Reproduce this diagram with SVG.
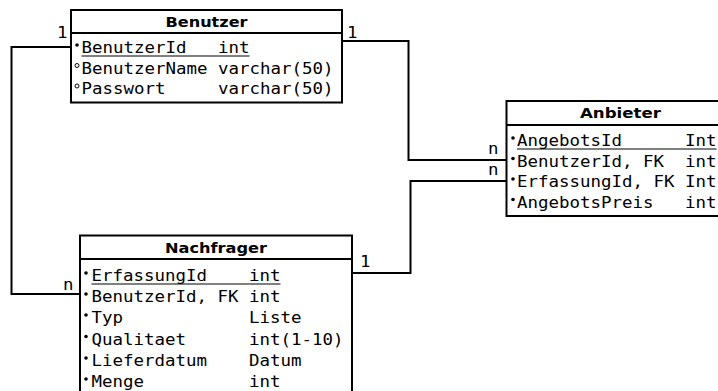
<svg xmlns="http://www.w3.org/2000/svg" width="718" height="391" viewBox="0 0 718 391">
<style>
.box{fill:#fff;stroke:#000;stroke-width:2}
.sep{stroke:#000;stroke-width:2}
.t{font-family:"DejaVu Sans Mono",monospace;font-size:15.5px;fill:#000}
.h{font-family:"DejaVu Sans",sans-serif;font-size:14px;font-weight:bold;fill:#000;text-anchor:middle}
.u{stroke:#000;stroke-width:1}
.b{fill:#000}
.o{fill:none;stroke:#000;stroke-width:1}
.c{fill:none;stroke:#000;stroke-width:2}
</style>
<rect width="718" height="391" fill="#fff"/>
<g id="connectors">
<polyline class="c" points="71,47 11.5,47 11.5,294 80,294"/>
<polyline class="c" points="342,41 408.5,41 408.5,160 506,160"/>
<polyline class="c" points="352,273 410.5,273 410.5,181 506,181"/>
<text class="t" x="57" y="38" textLength="10.5" lengthAdjust="spacingAndGlyphs">1</text>
<text class="t" x="347" y="38" textLength="10.5" lengthAdjust="spacingAndGlyphs">1</text>
<text class="t" x="63" y="290" textLength="10.5" lengthAdjust="spacingAndGlyphs">n</text>
<text class="t" x="488" y="154" textLength="10.5" lengthAdjust="spacingAndGlyphs">n</text>
<text class="t" x="488" y="175" textLength="10.5" lengthAdjust="spacingAndGlyphs">n</text>
<text class="t" x="360" y="267" textLength="10.5" lengthAdjust="spacingAndGlyphs">1</text>
</g>
<g id="Benutzer">
<rect class="box" x="71" y="10" width="271" height="92.5"/>
<line class="sep" x1="71" y1="33" x2="342" y2="33"/>
<text class="h" x="206.5" y="27" textLength="82" lengthAdjust="spacingAndGlyphs">Benutzer</text>
<circle class="b" cx="77" cy="45" r="1.8"/>
<circle class="o" cx="77" cy="65.5" r="2"/>
<circle class="o" cx="77" cy="86" r="2"/>
<text class="t" x="81.5" y="53" textLength="168" lengthAdjust="spacingAndGlyphs" xml:space="preserve">BenutzerId   int</text>
<line class="u" x1="81.5" y1="56" x2="249.5" y2="56"/>
<text class="t" x="81.5" y="73.5" textLength="252" lengthAdjust="spacingAndGlyphs" xml:space="preserve">BenutzerName varchar(50)</text>
<text class="t" x="81.5" y="94" textLength="252" lengthAdjust="spacingAndGlyphs" xml:space="preserve">Passwort     varchar(50)</text>
</g>
<g id="Anbieter">
<rect class="box" x="506.5" y="101" width="230" height="115"/>
<line class="sep" x1="506.5" y1="125" x2="718" y2="125"/>
<text class="h" x="620.5" y="118" textLength="81" lengthAdjust="spacingAndGlyphs">Anbieter</text>
<circle class="b" cx="513" cy="138" r="1.8"/>
<circle class="b" cx="513" cy="158.5" r="1.8"/>
<circle class="b" cx="513" cy="179" r="1.8"/>
<circle class="b" cx="513" cy="199.5" r="1.8"/>
<text class="t" x="517" y="146" textLength="199.5" lengthAdjust="spacingAndGlyphs" xml:space="preserve">AngebotsId      Int</text>
<line class="u" x1="517" y1="149" x2="716.5" y2="149"/>
<text class="t" x="517" y="166.5" textLength="199.5" lengthAdjust="spacingAndGlyphs" xml:space="preserve">BenutzerId, FK  int</text>
<text class="t" x="517" y="187" textLength="199.5" lengthAdjust="spacingAndGlyphs" xml:space="preserve">ErfassungId, FK Int</text>
<text class="t" x="517" y="207.5" textLength="199.5" lengthAdjust="spacingAndGlyphs" xml:space="preserve">AngebotsPreis   int</text>
</g>
<g id="Nachfrager">
<rect class="box" x="80" y="235.5" width="272" height="170"/>
<line class="sep" x1="80" y1="259" x2="352" y2="259"/>
<text class="h" x="216" y="253" textLength="102" lengthAdjust="spacingAndGlyphs">Nachfrager</text>
<circle class="b" cx="86" cy="273" r="1.8"/>
<circle class="b" cx="86" cy="294" r="1.8"/>
<circle class="b" cx="86" cy="315" r="1.8"/>
<circle class="b" cx="86" cy="336.5" r="1.8"/>
<circle class="b" cx="86" cy="358" r="1.8"/>
<circle class="b" cx="86" cy="379" r="1.8"/>
<text class="t" x="91.5" y="281" textLength="189" lengthAdjust="spacingAndGlyphs" xml:space="preserve">ErfassungId    int</text>
<line class="u" x1="91.5" y1="284" x2="280.5" y2="284"/>
<text class="t" x="91.5" y="302" textLength="189" lengthAdjust="spacingAndGlyphs" xml:space="preserve">BenutzerId, FK int</text>
<text class="t" x="91.5" y="323" textLength="210" lengthAdjust="spacingAndGlyphs" xml:space="preserve">Typ            Liste</text>
<text class="t" x="91.5" y="344.5" textLength="252" lengthAdjust="spacingAndGlyphs" xml:space="preserve">Qualitaet      int(1-10)</text>
<text class="t" x="91.5" y="366" textLength="210" lengthAdjust="spacingAndGlyphs" xml:space="preserve">Lieferdatum    Datum</text>
<text class="t" x="91.5" y="387" textLength="189" lengthAdjust="spacingAndGlyphs" xml:space="preserve">Menge          int</text>
</g>
</svg>
